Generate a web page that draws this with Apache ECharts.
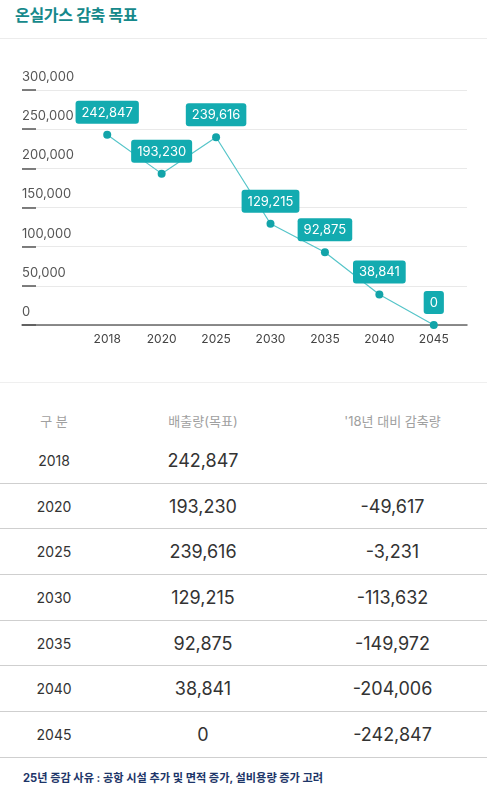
<!DOCTYPE html>
<html lang="ko">
<head>
<meta charset="utf-8">
<title>온실가스 감축 목표</title>
<script src="https://cdn.jsdelivr.net/npm/echarts@6/dist/echarts.min.js"></script>
<style>
  html, body { margin: 0; padding: 0; background: #fff; }
  body { width: 487px; font-family: Inter, "Noto Sans CJK KR", sans-serif; color: #333; }
  .title {
    height: 38px; line-height: 30px; padding-left: 15px;
    font-size: 16px; font-weight: 700; color: #16898b;
    border-bottom: 1px solid #ececec; letter-spacing: -0.3px;
  }
  #chart { width: 487px; height: 343px; }
  .table { border-top: 1px solid #efefef; }
  .row { display: flex; align-items: center; box-sizing: border-box; height: 45.7px; border-bottom: 1px solid #cfcfcf; }
  .row.head { height: 55px; border-bottom: none; align-items: flex-end; padding-bottom: 8px; color: #a0a0a0; font-size: 13px; }
  .c1 { width: 108px; text-align: center; }
  .c2 { width: 190px; text-align: center; }
  .c3 { width: 189px; text-align: center; }
  .row .c1 { font-size: 14px; }
  .row .c2, .row .c3 { font-size: 18px; }
  .row.head .c1, .row.head .c2, .row.head .c3 { font-size: 13px; }
  .note { padding: 11px 0 0 23px; font-size: 11.2px; font-weight: 700; color: #1d3568; }
</style>
</head>
<body>
<div class="title">온실가스 감축 목표</div>
<div id="chart"></div>
<div class="table" id="table"></div>
<div class="note">25년 증감 사유 : 공항 시설 추가 및 면적 증가, 설비용량 증가 고려</div>
<script>
// 연도별 배출량 (목표)
let years = ["2018", "2020", "2025", "2030", "2035", "2040", "2045"];
let emissions = [242847, 193230, 239616, 129215, 92875, 38841, 0];
// '18년 대비 감축량
let reductions = ["", "-49,617", "-3,231", "-113,632", "-149,972", "-204,006", "-242,847"];
let headers = ["구 분", "배출량(목표)", "'18년 대비 감축량"];

let fmt = function (v) {
  return v.toLocaleString("en-US");
};

// table
let renderTable = function () {
  let html = '<div class="row head"><div class="c1">' + headers[0] + '</div><div class="c2">' +
    headers[1] + '</div><div class="c3">' + headers[2] + '</div></div>';
  for (let i = 0; i < years.length; i++) {
    html += '<div class="row"><div class="c1">' + years[i] + '</div><div class="c2">' +
      fmt(emissions[i]) + '</div><div class="c3">' + reductions[i] + '</div></div>';
  }
  document.getElementById("table").innerHTML = html;
};
renderTable();

var myChart = echarts.init(document.getElementById("chart"));

var option = {
  animation: false,
  textStyle: { fontFamily: "Inter, 'Noto Sans CJK KR', sans-serif" },
  grid: [
    { left: 22, right: 20, top: 51, bottom: 57 },
    { left: 80, right: 26, top: 51, bottom: 57 },
  ],
  xAxis: [
    {
      gridIndex: 0,
      type: "value",
      min: 0,
      max: 1,
      axisLine: { show: true, onZero: false, lineStyle: { color: "#666", width: 1.5 } },
      axisTick: { show: false },
      axisLabel: { show: false },
      splitLine: { show: false },
    },
    {
      gridIndex: 1,
      type: "category",
      data: years,
      boundaryGap: true,
      axisLine: { show: false },
      axisTick: { show: false },
      axisLabel: { color: "#444", fontSize: 12, margin: 8 },
    },
  ],
  yAxis: [
    {
      gridIndex: 0,
      type: "value",
      min: 0,
      max: 300000,
      interval: 50000,
      axisLine: { show: false },
      axisTick: { show: true, inside: true, length: 14, lineStyle: { color: "#555", width: 1.5 } },
      axisLabel: {
        inside: true,
        margin: 0,
        color: "#555",
        fontSize: 13,
        verticalAlign: "bottom",
        lineHeight: 14,
        padding: [0, 0, 6, 0],
        formatter: function (v) {
          return fmt(v);
        },
      },
      splitLine: { show: true, lineStyle: { color: "#e9e9e9", width: 1 } },
    },
    {
      gridIndex: 1,
      type: "value",
      min: 0,
      max: 300000,
      show: false,
    },
  ],
  series: [
    {
      type: "line",
      xAxisIndex: 1,
      yAxisIndex: 1,
      data: emissions,
      symbol: "circle",
      symbolSize: 8,
      itemStyle: { color: "#12a4a9" },
      lineStyle: { color: "#56c5c9", width: 1.2 },
      z: 5,
      label: {
        show: true,
        position: "top",
        distance: 7,
        color: "#fff",
        fontSize: 13,
        lineHeight: 14,
        backgroundColor: "#13abb0",
        borderRadius: 3,
        padding: [5, 6, 4, 6],
        formatter: function (p) {
          return fmt(p.value);
        },
      },
    },
  ],
};

option && myChart.setOption(option);
</script>
</body>
</html>
